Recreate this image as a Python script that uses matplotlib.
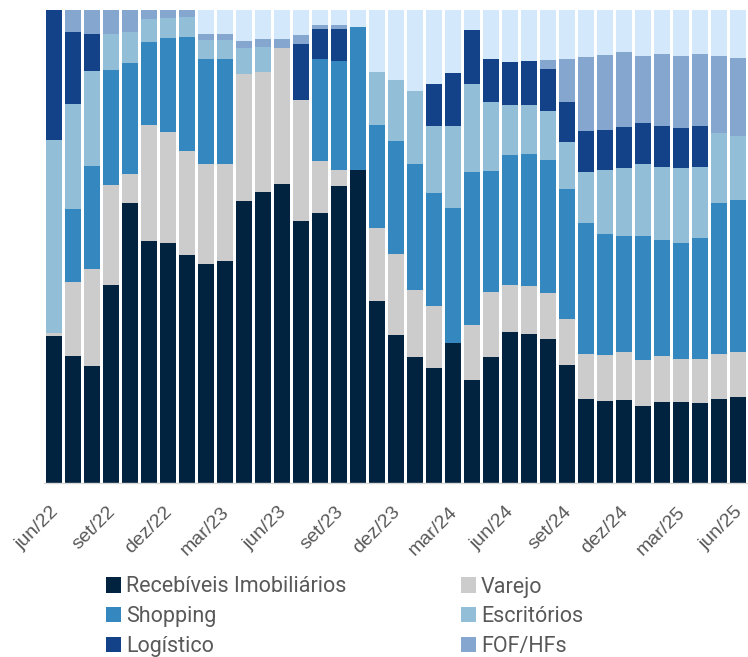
import numpy as np
import matplotlib
matplotlib.use("Agg")
import matplotlib.pyplot as plt
import matplotlib.transforms as mtransforms
from matplotlib.patches import Patch

# composição mensal da carteira (% do PL), jun/22 a jun/25
recebiveis = [31.1, 26.9, 24.8, 41.9, 59.3, 51.2, 50.8, 48.1, 46.3, 47.0, 59.6, 61.5, 63.2, 55.4, 57.1, 62.8, 66.2, 38.5, 31.2, 26.6, 24.3, 29.7, 21.8, 26.7, 31.9, 31.5, 30.4, 24.9, 17.7, 17.3, 17.5, 16.3, 17.1, 17.1, 17.0, 17.8, 18.2]
varejo = [0.6, 15.6, 20.4, 21.0, 6.0, 24.4, 23.4, 22.1, 21.1, 20.5, 26.8, 25.3, 28.8, 25.6, 11.0, 3.3, 0, 15.4, 17.3, 14.3, 13.1, 0, 11.6, 13.7, 10.0, 10.1, 9.7, 9.7, 9.5, 9.7, 10.1, 9.7, 9.7, 9.1, 9.2, 9.5, 9.6]
shopping = [0, 15.4, 21.9, 24.5, 23.6, 17.7, 19.8, 24.0, 22.2, 22.2, 0, 0, 0, 0, 21.6, 23.1, 30.2, 21.7, 23.8, 26.6, 23.9, 28.5, 32.4, 25.6, 27.5, 28.0, 28.2, 27.5, 27.8, 25.6, 24.7, 26.2, 24.6, 24.6, 25.6, 31.8, 32.0]
escritorios = [40.9, 22.2, 20.0, 7.5, 6.4, 4.7, 4.3, 4.4, 4.1, 4.0, 5.5, 5.4, 0, 0, 0, 0, 0, 11.3, 13.0, 15.4, 14.2, 17.3, 18.5, 14.6, 10.5, 10.4, 10.4, 9.9, 10.8, 13.5, 14.2, 15.2, 15.5, 15.8, 15.1, 15.0, 13.5]
logistico = [27.5, 15.2, 7.9, 0, 0, 0, 0, 0, 0, 0, 0, 0, 0, 11.9, 6.3, 6.7, 0, 0, 0, 0, 8.9, 11.1, 11.4, 9.0, 9.1, 9.2, 8.9, 8.5, 8.7, 8.6, 8.8, 8.7, 8.5, 8.5, 8.5, 0, 0]
fof_hfs = [0, 4.7, 5.0, 5.1, 4.7, 2.1, 1.7, 1.5, 1.3, 1.3, 1.6, 1.6, 1.8, 1.8, 0.9, 0.9, 0, 0, 0, 0, 0, 0, 0, 0, 0, 0, 1.8, 9.2, 15.6, 15.8, 15.9, 14.2, 15.3, 15.2, 15.3, 16.2, 16.6]
outros = [0, 0, 0, 0, 0, 0, 0, 0, 5.1, 5.1, 6.4, 6.2, 6.2, 5.3, 3.0, 3.2, 3.6, 13.1, 14.6, 17.1, 15.6, 13.4, 4.3, 10.4, 11.0, 10.7, 10.7, 10.2, 9.9, 9.5, 8.9, 9.7, 9.3, 9.7, 9.3, 9.8, 10.1]

tick_labels = ["jun/22", "set/22", "dez/22", "mar/23", "jun/23", "set/23", "dez/23",
               "mar/24", "jun/24", "set/24", "dez/24", "mar/25", "jun/25"]

series = [
    ("Recebíveis Imobiliários", recebiveis, "#012340"),
    ("Varejo", varejo, "#CCCCCC"),
    ("Shopping", shopping, "#3588BF"),
    ("Escritórios", escritorios, "#93BED8"),
    ("Logístico", logistico, "#144288"),
    ("FOF/HFs", fof_hfs, "#84A6CF"),
    ("Outros", outros, "#D3E8FB"),
]

fig = plt.figure(figsize=(7.48, 6.57), dpi=100)
ax = fig.add_axes([44.2 / 748, 1 - 483 / 657, 703 / 748, 473 / 657])

x = np.arange(len(recebiveis))
bottom = np.zeros(len(x))
for name, vals, color in series:
    vals = np.array(vals, dtype=float)
    ax.bar(x, vals, width=0.84, bottom=bottom, color=color, linewidth=0)
    bottom += vals

ax.set_xlim(-0.5, len(x) - 0.5)
ax.set_ylim(0, 100)
ax.set_yticks([])
for s in ["top", "right", "left"]:
    ax.spines[s].set_visible(False)
ax.spines["bottom"].set_color("#D9D9D9")
ax.spines["bottom"].set_linewidth(1.0)

ax.set_xticks(x[::3])
ax.set_xticklabels(tick_labels, rotation=45, ha="right", va="center",
                   rotation_mode="anchor", fontsize=14, color="#595959",
                   family="Liberation Sans")
ax.tick_params(axis="x", length=0, pad=19)
shift = mtransforms.ScaledTranslation(2 / 100, 0, fig.dpi_scale_trans)
for lab in ax.get_xticklabels():
    lab.set_transform(lab.get_transform() + shift)

# legenda em duas colunas (Outros fica fora)
handles = [Patch(facecolor=c, label=n) for n, v, c in series[:6]]
leg_kw = dict(frameon=False, handlelength=0.7, handleheight=0.7,
              handletextpad=0.23, labelspacing=0.4, borderaxespad=0, borderpad=0,
              prop={"family": "Roboto", "size": 15.5})
leg1 = fig.legend(handles=[handles[0], handles[2], handles[4]], loc="upper left",
                  bbox_to_anchor=(106 / 748, 1 - 576.5 / 657), **leg_kw)
leg2 = fig.legend(handles=[handles[1], handles[3], handles[5]], loc="upper left",
                  bbox_to_anchor=(461 / 748, 1 - 576.5 / 657), **leg_kw)
for leg in (leg1, leg2):
    for t in leg.get_texts():
        t.set_color("#595959")

fig.savefig("out.png", dpi=100)
